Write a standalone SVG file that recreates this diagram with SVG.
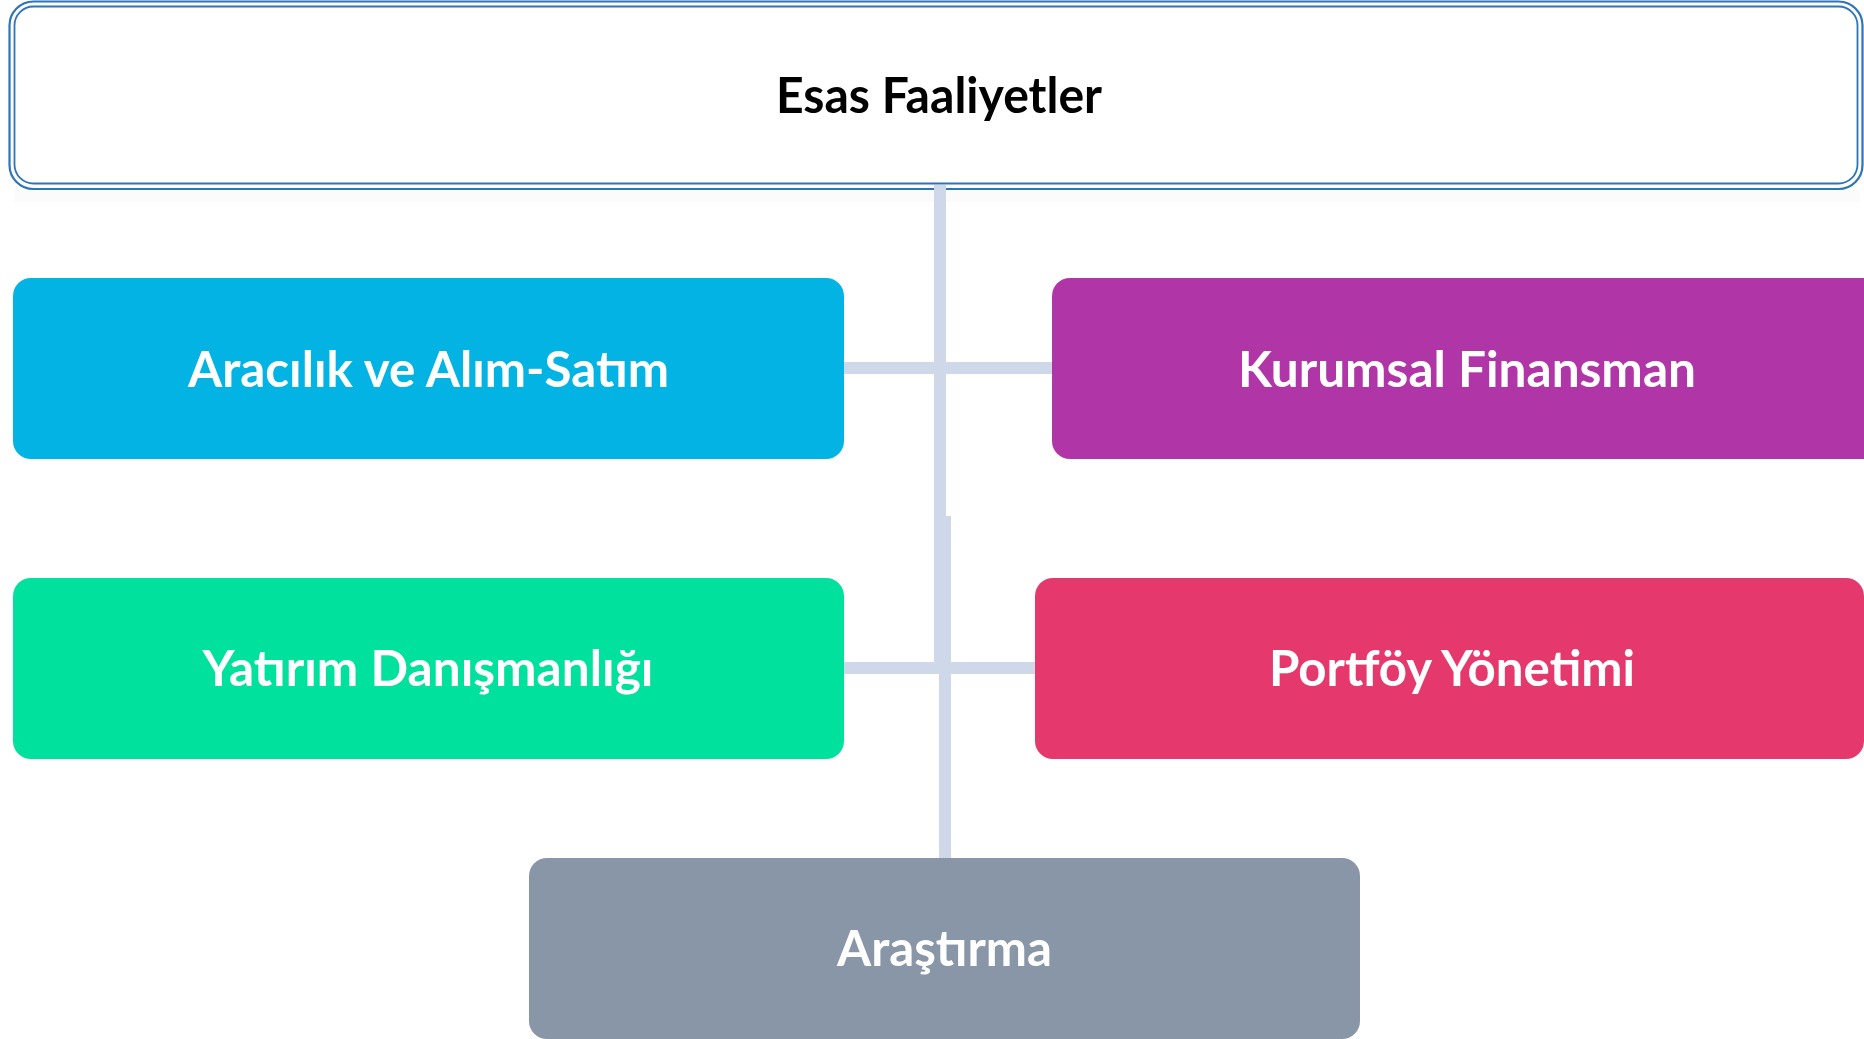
<svg xmlns="http://www.w3.org/2000/svg" width="1864" height="1039" viewBox="0 0 1864 1039">
<style>
.lbl{font-family:"Lato","Open Sans","Liberation Sans",sans-serif;font-weight:bold;font-size:50px;text-anchor:middle;fill:#FFFFFF}
.top{fill:#000000}
.conn{fill:#CFD8E8}
.box{stroke:none}
</style>
<rect x="0" y="0" width="1864" height="1039" fill="#FFFFFF"/>
<g id="node-root">
<rect x="14" y="190" width="1846" height="12" fill="#FBFBFB"/>
<rect x="9.5" y="1.5" width="1853" height="187.5" rx="24" fill="#FDFDFD" stroke="#2E74B8" stroke-width="2.2"/>
<rect x="14.5" y="6.5" width="1843" height="177" rx="19" fill="#FFFFFF" stroke="#2E74B8" stroke-width="1.8"/>
<text class="lbl top" x="939" y="113" textLength="326" lengthAdjust="spacingAndGlyphs">Esas Faaliyetler</text>
</g>
<g id="connectors">
<rect class="conn" x="934" y="185" width="12" height="489"/>
<rect class="conn" x="939" y="516" width="12" height="344"/>
<rect class="conn" x="842" y="362" width="212" height="12"/>
<rect class="conn" x="842" y="662" width="195" height="12"/>
</g>
<g id="node-aracilik">
<rect class="box" x="13" y="278" width="831" height="181" rx="18" fill="#02B3E4"/>
<text class="lbl" x="428.5" y="387" textLength="481" lengthAdjust="spacingAndGlyphs">Aracılık ve Alım-Satım</text>
</g>
<g id="node-kurumsal">
<rect class="box" x="1052" y="278" width="831" height="181" rx="18" fill="#B036A7"/>
<text class="lbl" x="1467" y="387" textLength="458" lengthAdjust="spacingAndGlyphs">Kurumsal Finansman</text>
</g>
<g id="node-yatirim">
<rect class="box" x="13" y="578" width="831" height="181" rx="18" fill="#00E19E"/>
<text class="lbl" x="428" y="686" textLength="451" lengthAdjust="spacingAndGlyphs">Yatırım Danışmanlığı</text>
</g>
<g id="node-portfoy">
<rect class="box" x="1035" y="578" width="829" height="181" rx="18" fill="#E5396E"/>
<text class="lbl" x="1452" y="686" textLength="366" lengthAdjust="spacingAndGlyphs">Portföy Yönetimi</text>
</g>
<g id="node-arastirma">
<rect class="box" x="529" y="858" width="831" height="181" rx="18" fill="#8896A7"/>
<text class="lbl" x="944.5" y="966" textLength="215" lengthAdjust="spacingAndGlyphs">Araştırma</text>
</g>
</svg>
